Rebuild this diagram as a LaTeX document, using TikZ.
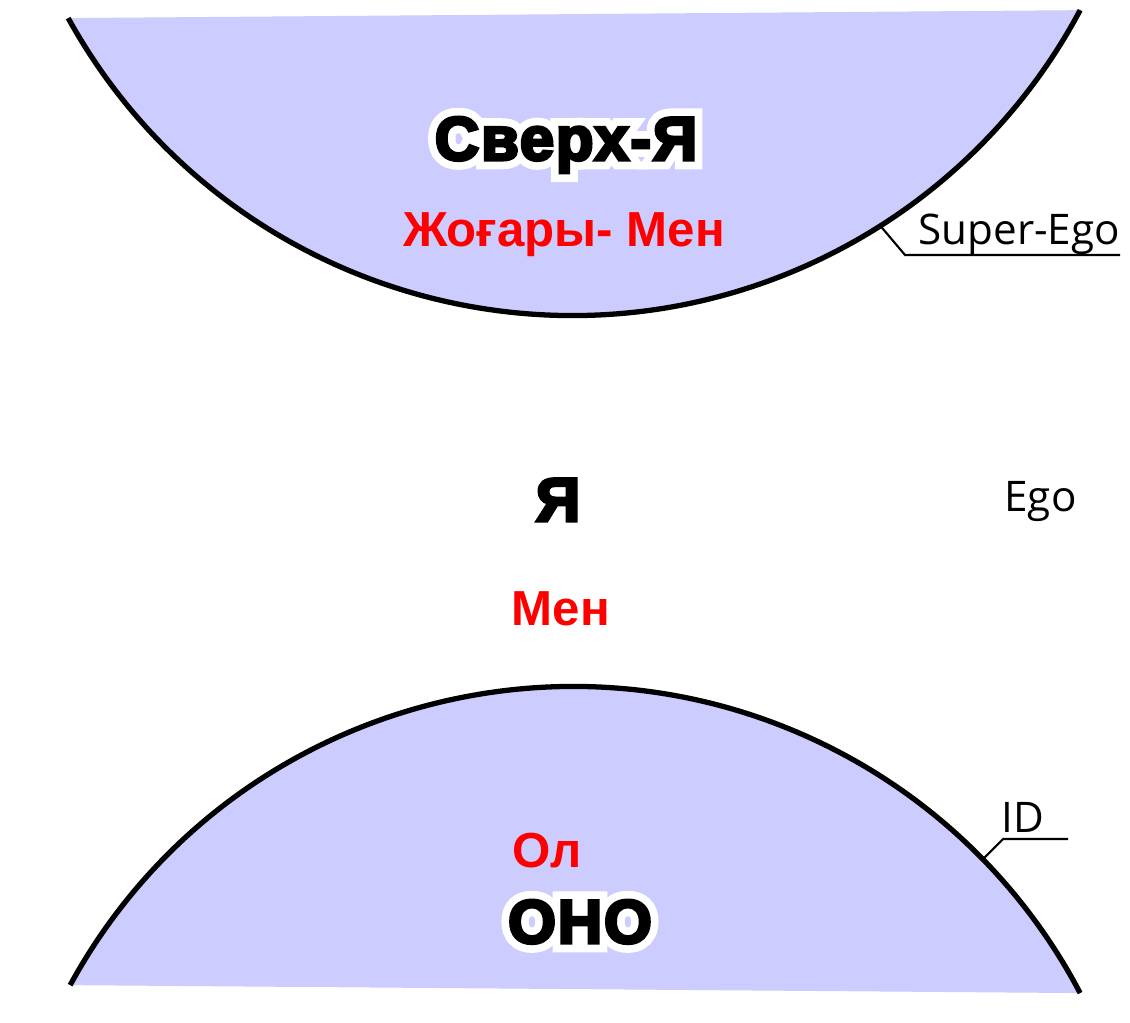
\documentclass[tikz,border=0pt]{standalone}
\usepackage{fontspec}
\usepackage{tikz}
\usetikzlibrary{calc}

\newfontfamily\redfont{Liberation Sans}
\newfontfamily\thinfont{Open Sans}
\newfontfamily\heavyfont[FakeBold=5,LetterSpace=3]{Liberation Sans}
\newfontfamily\halofont[FakeBold=30,LetterSpace=3]{Liberation Sans}
\definecolor{lavender}{RGB}{204,204,255}

\tikzset{
  rim/.style={line width=1.5pt},
  leader/.style={line width=0.6pt},
  kaz/.style={font=\redfont\bfseries\fontsize{14}{14}\selectfont, text=red, anchor=base},
  rus/.style={font=\heavyfont\bfseries\fontsize{17.5}{17.5}\selectfont, anchor=base},
  halo/.style={font=\halofont\bfseries\fontsize{17.5}{17.5}\selectfont, text=white, anchor=base},
  eng/.style={font=\thinfont\fontsize{12}{12}\selectfont, anchor=base west}
}

\begin{document}
\begin{tikzpicture}
        \fill[white] (0,0) rectangle (11.3,10.22); % фон
        \useasboundingbox (0,0) rectangle (11.3,10.22);

        \coordinate (O1) at (5.72,12.82); % центр верхней дуги
        \coordinate (O2) at (5.73,-2.373); % центр нижней дуги

        \fill[lavender] ($(O1)+(208.9:5.755)$) arc (208.9:332:5.755) -- cycle; % Сверх-Я
        \draw[rim] ($(O1)+(208.9:5.755)$) arc (208.9:332:5.755);

        \fill[lavender] ($(O2)+(151.4:5.728)$) arc (151.4:27.7:5.728) -- cycle; % Оно
        \draw[rim] ($(O2)+(151.4:5.728)$) arc (151.4:27.7:5.728);

        \coordinate (S0) at ($(O1)+(-57.6:5.755)$);
        \coordinate (S1) at (9.05,7.67);
        \coordinate (S2) at (11.2,7.67);
        \draw[leader] (S0) -- (S1) -- (S2);

        \coordinate (I0) at ($(O2)+(44.3:5.728)$);
        \coordinate (I1) at (10.03,1.83);
        \coordinate (I2) at (10.68,1.83);
        \draw[leader] (I0) -- (I1) -- (I2);

        \node[halo] (superH) at (5.66,8.62) {Сверх-Я};
        \node[rus] (super) at (5.66,8.62) {Сверх-Я};
        \node[kaz] (superK) at (5.64,7.75) {Жоғары- Мен};
        \node[eng] (superE) at (9.06,7.77) {Super-Ego};

        \node[rus] (ego) at (5.58,5.01) {Я};
        \node[kaz] (egoK) at (5.61,3.97) {Мен};
        \node[eng] (egoE) at (9.92,5.10) {Ego};

        \node[kaz] (idK) at (5.47,1.55) {Ол};
        \node[halo] (idH) at (5.80,0.79) {ОНО};
        \node[rus] (id) at (5.80,0.79) {ОНО};
        \node[eng] (idE) at (9.89,1.90) {ID};
\end{tikzpicture}
\end{document}
